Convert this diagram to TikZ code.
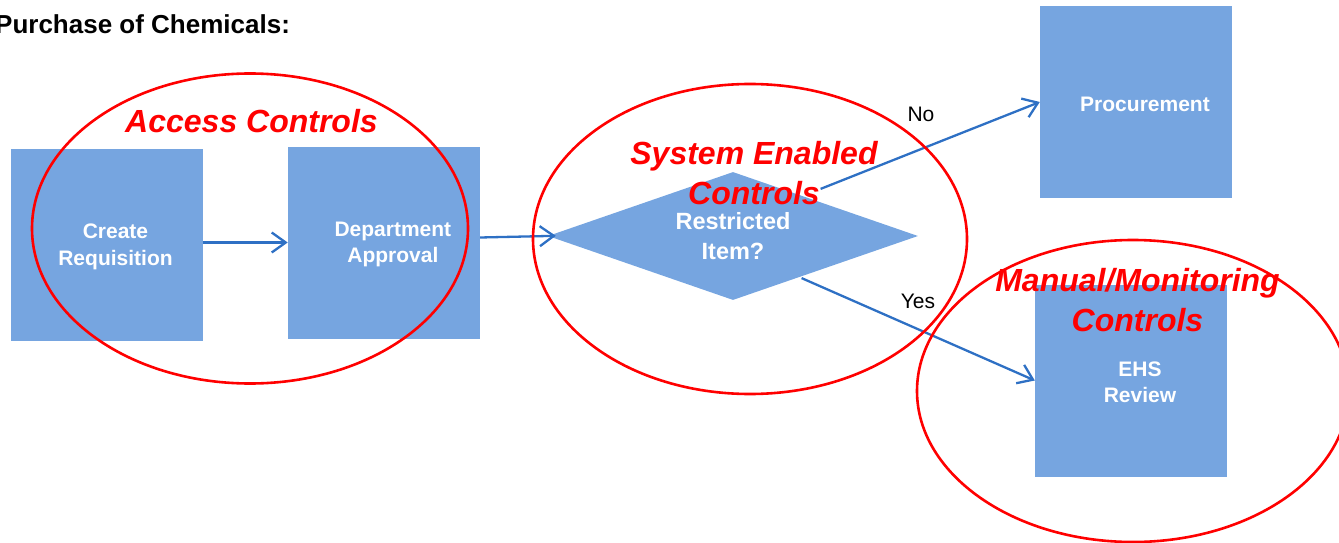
\documentclass[tikz,border=0pt]{standalone}
\usepackage{fontspec}
\setmainfont{Liberation Sans}
\usepackage{tikz}
\usetikzlibrary{positioning}
\usetikzlibrary{arrows.meta,shapes.geometric}
\definecolor{boxblue}{RGB}{118,165,224}
\definecolor{lineblue}{RGB}{46,112,196}
\definecolor{ctrlred}{RGB}{255,0,0}
\tikzset{
    every picture/.style={>={Straight Barb[length=14pt,width=20pt]},node distance=85pt},
}

\begin{document}
\begin{tikzpicture}[x=1pt,y=-1pt,
stepbox/.style={fill=boxblue,minimum size=192pt,inner sep=0pt},
boxtext/.style={text=white,font=\fontsize{21}{26.5}\selectfont\bfseries,align=center,xshift=9pt,yshift=-2pt},
flow/.style={draw=lineblue,line width=2.3pt,->},
ring/.style={draw=ctrlred,line width=2.6pt},
ctrl/.style={text=ctrlred,font=\fontsize{32}{40}\selectfont\bfseries\itshape,align=center,inner sep=0pt},
answer/.style={font=\fontsize{21}{25}\selectfont,inner sep=0pt}]
\useasboundingbox (0,0) rectangle (1339,543);

\node[font=\fontsize{26}{30}\selectfont\bfseries,anchor=base west,inner sep=0pt] (title) at (-5,34) {Purchase of Chemicals:};

\node[stepbox,label={[boxtext]center:{Create\\Requisition}}] (req) at (106.5,245) {};
\node[stepbox,right=of req,yshift=2.5pt,label={[boxtext]center:{Department\\Approval}}] (dept) {};
\node[diamond,aspect=2.9,fill=boxblue,minimum width=370pt,minimum height=128pt,inner sep=0pt,
      text=white,font=\fontsize{23.5}{30}\selectfont\bfseries,align=center] (dia) at (733,236) {Restricted\\Item?};
\node[stepbox,label={[boxtext]center:Procurement}] (proc) at (1136,102) {};
\node[stepbox,label={[boxtext]center:{EHS\\Review}}] (ehs) at (1131,380.5) {};

\draw[flow] (req.east |- dept.west) -- (dept.west);
\draw[flow,shorten >=-8pt] ([yshift=5pt]dept.east) -- (dia.west);
\draw[flow] ([shift={(-5pt,15pt)}]dia.north east) -- (proc.west);
\draw[flow] ([shift={(-24pt,-10pt)}]dia.south east) -- (ehs.west);
\node[answer] (no) at (921,114.5) {No};
\node[answer] (yes) at (918,301.5) {Yes};

% control groups
\draw[ring] (250,228.5) ellipse [x radius=218pt,y radius=155pt];
\draw[ring] (750,239) ellipse [x radius=217pt,y radius=155pt];
\draw[ring] (1133,391) ellipse [x radius=216pt,y radius=151pt];

\node[ctrl,anchor=base] (access) at (251.5,132) {Access Controls};
\node[ctrl] (system) at (754,173.3) {System Enabled\\Controls};
\node[ctrl] (manual) at (1137.5,300.3) {Manual/Monitoring\\Controls};
\end{tikzpicture}
\end{document}
